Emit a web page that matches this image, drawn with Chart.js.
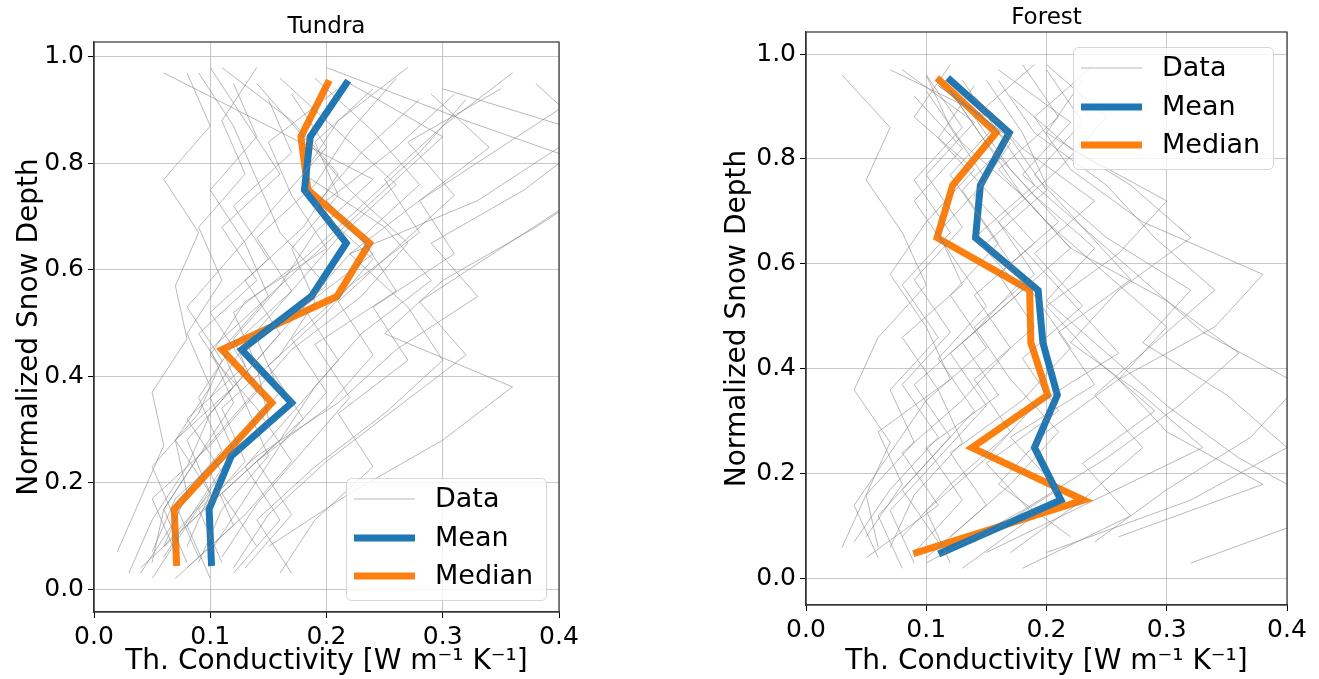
<!DOCTYPE html>
<html>
<head>
<meta charset="utf-8">
<title>Snow thermal conductivity profiles</title>
<script src="https://cdn.jsdelivr.net/npm/chart.js@4.4.1/dist/chart.umd.min.js"></script>
<style>
    body { margin: 0; background: #fff; }
    .panel { position: absolute; top: 0; }
    #tundraPanel { left: 0; }
    #forestPanel { left: 660px; }
</style>
</head>
<body>
<div class="panel" id="tundraPanel"><canvas id="tundraChart" width="660" height="679"></canvas></div>
<div class="panel" id="forestPanel"><canvas id="forestChart" width="659" height="679"></canvas></div>

<script>
// Normalized depth of each layer (bottom -> top)
const depthLevels = [0.05, 0.15, 0.25, 0.35, 0.45, 0.55, 0.65, 0.75, 0.85, 0.95];
const xTicks = [0.0, 0.1, 0.2, 0.3, 0.4];
const yTicks = [0.0, 0.2, 0.4, 0.6, 0.8, 1.0];

// Tundra
const tundraMean = [0.101, 0.099, 0.118, 0.170, 0.127, 0.187, 0.217, 0.181, 0.186, 0.217];
const tundraMedian = [0.071, 0.069, 0.111, 0.153, 0.110, 0.209, 0.237, 0.184, 0.178, 0.201];
const tundraProfiles = [
    [0.05, 0.06, 0.09, 0.12, 0.10, 0.15, 0.20, 0.25, 0.30, 0.22],
    [0.03, 0.05, 0.08, 0.10, 0.14, 0.18, 0.22, 0.28, 0.35, 0.42],
    [0.08, 0.10, 0.07, 0.12, 0.09, 0.14, 0.11, 0.16, 0.13, 0.10],
    [0.12, 0.15, 0.20, 0.26, 0.32, 0.28, 0.35, 0.42, 0.45, 0.30],
    [0.02, 0.04, 0.06, 0.05, 0.08, 0.07, 0.09, 0.06, 0.10, 0.08],
    [0.10, 0.08, 0.13, 0.18, 0.15, 0.20, 0.24, 0.19, 0.23, 0.28],
    [0.06, 0.09, 0.12, 0.10, 0.13, 0.17, 0.14, 0.19, 0.22, 0.26],
    [0.15, 0.22, 0.30, 0.36, 0.25, 0.30, 0.38, 0.45, 0.32, 0.20],
    [0.04, 0.07, 0.05, 0.09, 0.11, 0.08, 0.12, 0.16, 0.20, 0.17],
    [0.09, 0.11, 0.15, 0.13, 0.17, 0.23, 0.27, 0.22, 0.18, 0.14],
    [0.07, 0.05, 0.10, 0.14, 0.12, 0.16, 0.19, 0.24, 0.15, 0.06],
    [0.13, 0.17, 0.14, 0.20, 0.24, 0.21, 0.26, 0.31, 0.27, 0.35],
    [0.05, 0.08, 0.11, 0.08, 0.13, 0.10, 0.15, 0.12, 0.17, 0.15],
    [0.11, 0.14, 0.18, 0.22, 0.19, 0.26, 0.23, 0.28, 0.24, 0.19],
    [0.06, 0.10, 0.08, 0.12, 0.16, 0.13, 0.18, 0.21, 0.17, 0.11],
    [0.17, 0.14, 0.19, 0.25, 0.30, 0.27, 0.22, 0.33, 0.40, 0.44],
    [0.08, 0.06, 0.09, 0.13, 0.11, 0.15, 0.13, 0.10, 0.14, 0.12],
    [0.10, 0.13, 0.16, 0.20, 0.17, 0.22, 0.28, 0.25, 0.30, 0.36],
    [0.04, 0.09, 0.13, 0.11, 0.16, 0.19, 0.17, 0.21, 0.19, 0.24],
    [0.14, 0.11, 0.16, 0.19, 0.23, 0.29, 0.25, 0.18, 0.21, 0.27],
    [0.07, 0.12, 0.10, 0.15, 0.14, 0.12, 0.18, 0.23, 0.28, 0.32],
    [0.09, 0.07, 0.11, 0.09, 0.12, 0.17, 0.21, 0.26, 0.21, 0.16],
    [0.12, 0.16, 0.13, 0.17, 0.21, 0.18, 0.24, 0.20, 0.26, 0.31],
    [0.05, 0.07, 0.12, 0.16, 0.14, 0.20, 0.16, 0.14, 0.12, 0.09],
    [0.11, 0.09, 0.14, 0.21, 0.26, 0.33, 0.29, 0.37, 0.43, 0.38],
    [0.08, 0.13, 0.17, 0.14, 0.10, 0.13, 0.20, 0.17, 0.15, 0.21],
    [0.06, 0.08, 0.07, 0.10, 0.08, 0.11, 0.09, 0.13, 0.11, 0.14],
    [0.16, 0.19, 0.24, 0.21, 0.27, 0.24, 0.31, 0.28, 0.34, 0.29]
];
// small vertical offset of each measured profile's layers
const tundraShift = [0.00, -0.02, 0.03, -0.01, 0.02, -0.03, 0.01, 0.03, -0.02, 0.00,
                     0.02, -0.01, -0.03, 0.01, 0.03, -0.02, 0.00, 0.02, -0.01, 0.03,
                     -0.03, 0.01, -0.02, 0.02, 0.00, -0.01, 0.03, -0.02];

// Forest
const forestMean = [0.113, 0.212, 0.190, 0.209, 0.197, 0.193, 0.141, 0.145, 0.169, 0.120];
const forestMedian = [0.092, 0.231, 0.138, 0.201, 0.187, 0.186, 0.109, 0.122, 0.158, 0.111];
const forestProfiles = [
    [0.03, 0.05, 0.07, 0.04, 0.06, 0.10, 0.08, 0.05, 0.07, 0.03],
    [0.10, 0.18, 0.25, 0.31, 0.36, 0.30, 0.22, 0.18, 0.13, 0.10],
    [0.05, 0.08, 0.06, 0.12, 0.10, 0.07, 0.10, 0.14, 0.09, 0.12],
    [0.20, 0.32, 0.40, 0.35, 0.28, 0.32, 0.25, 0.20, 0.18, 0.15],
    [0.08, 0.06, 0.10, 0.14, 0.11, 0.15, 0.12, 0.09, 0.13, 0.09],
    [0.14, 0.21, 0.17, 0.24, 0.21, 0.27, 0.23, 0.18, 0.22, 0.16],
    [0.06, 0.04, 0.07, 0.10, 0.15, 0.12, 0.16, 0.13, 0.17, 0.11],
    [0.26, 0.38, 0.30, 0.26, 0.34, 0.38, 0.28, 0.22, 0.19, 0.24],
    [0.09, 0.13, 0.10, 0.16, 0.13, 0.18, 0.14, 0.19, 0.16, 0.13],
    [0.12, 0.10, 0.15, 0.19, 0.26, 0.22, 0.18, 0.14, 0.17, 0.12],
    [0.04, 0.07, 0.11, 0.08, 0.12, 0.09, 0.13, 0.10, 0.14, 0.08],
    [0.18, 0.27, 0.23, 0.29, 0.24, 0.20, 0.26, 0.30, 0.22, 0.17],
    [0.07, 0.09, 0.13, 0.11, 0.08, 0.13, 0.11, 0.15, 0.12, 0.10],
    [0.22, 0.16, 0.20, 0.26, 0.30, 0.25, 0.20, 0.16, 0.21, 0.18],
    [0.05, 0.11, 0.08, 0.13, 0.17, 0.14, 0.19, 0.15, 0.11, 0.14],
    [0.15, 0.24, 0.33, 0.28, 0.22, 0.26, 0.32, 0.27, 0.20, 0.23],
    [0.11, 0.08, 0.12, 0.09, 0.14, 0.18, 0.15, 0.12, 0.16, 0.07],
    [0.32, 0.44, 0.36, 0.30, 0.25, 0.20, 0.24, 0.19, 0.15, 0.12],
    [0.08, 0.12, 0.17, 0.14, 0.19, 0.16, 0.21, 0.17, 0.14, 0.19],
    [0.13, 0.19, 0.15, 0.21, 0.18, 0.23, 0.19, 0.24, 0.18, 0.14],
    [0.06, 0.05, 0.09, 0.07, 0.11, 0.08, 0.12, 0.09, 0.13, 0.10],
    [0.17, 0.23, 0.28, 0.24, 0.29, 0.34, 0.29, 0.25, 0.19, 0.16],
    [0.10, 0.15, 0.12, 0.18, 0.22, 0.19, 0.15, 0.20, 0.17, 0.11],
    [0.24, 0.30, 0.37, 0.41, 0.33, 0.28, 0.23, 0.19, 0.23, 0.20],
    [0.09, 0.07, 0.11, 0.15, 0.12, 0.17, 0.22, 0.18, 0.15, 0.12],
    [0.12, 0.17, 0.21, 0.17, 0.14, 0.19, 0.16, 0.21, 0.25, 0.20]
];
const forestShift = [0.01, -0.02, 0.03, 0.00, -0.03, 0.02, -0.01, 0.03, 0.00, -0.02,
                     0.02, -0.03, 0.01, 0.03, -0.01, 0.00, 0.02, -0.02, 0.03, -0.03,
                     0.01, 0.00, -0.01, 0.02, -0.02, 0.03];

const FONT = "'DejaVu Sans', sans-serif";
const BLUE = '#1f77b4';
const ORANGE = '#ff7f0e';
const GREY = 'rgba(128, 128, 128, 0.55)';

// Turn x-values at the depth levels into {x, y} points
function toPoints(values, shift) {
    return values.map((v, i) => ({ x: v, y: depthLevels[i] + (shift || 0) }));
}

function buildDatasets(profiles, shifts, mean, median) {
    const sets = profiles.map((p, i) => ({
        label: 'Data',
        data: toPoints(p, shifts[i]),
        borderColor: GREY,
        borderWidth: 1,
        pointRadius: 0,
        showLine: true
    }));
    sets.push({
        label: 'Mean', data: toPoints(mean), borderColor: BLUE, borderWidth: 7,
        pointRadius: 0, showLine: true, borderCapStyle: 'square', clip: false
    });
    sets.push({
        label: 'Median', data: toPoints(median), borderColor: ORANGE, borderWidth: 7,
        pointRadius: 0, showLine: true, borderCapStyle: 'square', clip: false
    });
    return sets;
}

// Axes title, top/right spines and a matplotlib-like legend inside the axes
const framePlugin = {
    id: 'frameAndLegend',
    afterDatasetsDraw(chart, args, opts) {
        const ctx = chart.ctx;
        const a = chart.chartArea;
        ctx.save();
        ctx.strokeStyle = '#333';
        ctx.lineWidth = 1.2;
        ctx.strokeRect(a.left, a.top, a.right - a.left, a.bottom - a.top);

        // panel title, centred over the axes
        ctx.fillStyle = '#000';
        ctx.font = '23px ' + FONT;
        ctx.textAlign = 'center';
        ctx.textBaseline = 'middle';
        ctx.fillText(opts.title, (a.left + a.right) / 2, opts.titleY);

        // legend box
        const w = 200, h = 122;
        const left = a.right - opts.right - w;
        const top = opts.corner === 'lower' ? a.bottom - opts.bottom - h : a.top + opts.top;
        ctx.fillStyle = 'rgba(255,255,255,0.8)';
        ctx.strokeStyle = 'rgba(204,204,204,0.8)';
        ctx.lineWidth = 1;
        ctx.beginPath();
        ctx.roundRect(left + 0.5, top + 0.5, w, h, 5);
        ctx.fill();
        ctx.stroke();

        const rows = [
            { text: 'Data', color: GREY, width: 1, dy: 21 },
            { text: 'Mean', color: BLUE, width: 7, dy: 60 },
            { text: 'Median', color: ORANGE, width: 7, dy: 98 }
        ];
        ctx.font = '27px ' + FONT;
        ctx.textAlign = 'left';
        rows.forEach(r => {
            ctx.strokeStyle = r.color;
            ctx.lineWidth = r.width;
            ctx.beginPath();
            ctx.moveTo(left + 8, top + r.dy);
            ctx.lineTo(left + 69, top + r.dy);
            ctx.stroke();
            ctx.fillStyle = '#000';
            ctx.fillText(r.text, left + 89, top + r.dy + 1);
        });
        ctx.restore();
    }
};

function makeChart(canvasId, cfg) {
    const ctx = document.getElementById(canvasId).getContext('2d');
    return new Chart(ctx, {
        type: 'scatter',
        data: { datasets: buildDatasets(cfg.profiles, cfg.shifts, cfg.mean, cfg.median) },
        plugins: [framePlugin],
        options: {
            responsive: false,
            animation: false,
            layout: { padding: { left: cfg.padLeft, right: cfg.padRight, top: cfg.padTop, bottom: 0 } },
            plugins: {
                legend: { display: false },
                tooltip: { enabled: false },
                title: { display: false },
                frameAndLegend: cfg.legend
            },
            scales: {
                x: {
                    type: 'linear',
                    min: 0,
                    max: 0.4,
                    afterBuildTicks: scale => { scale.ticks = xTicks.map(v => ({ value: v })); },
                    afterFit: scale => { scale.height = cfg.xHeight; },
                    ticks: {
                        color: '#000',
                        padding: 4,
                        maxRotation: 0,
                        font: { family: FONT, size: 25 },
                        callback: v => v.toFixed(1)
                    },
                    grid: { color: 'rgba(176,176,176,0.7)', tickColor: '#000', tickLength: 6 },
                    border: { color: '#333', width: 1.2 },
                    title: {
                        display: true,
                        text: 'Th. Conductivity [W m⁻¹ K⁻¹]',
                        color: '#000',
                        font: { family: FONT, size: 28 },
                        padding: { top: cfg.xTitlePad, bottom: 0 }
                    }
                },
                y: {
                    type: 'linear',
                    min: cfg.yMin,
                    max: cfg.yMax,
                    afterBuildTicks: scale => { scale.ticks = yTicks.map(v => ({ value: v })); },
                    afterFit: scale => { scale.width = cfg.yWidth; },
                    ticks: {
                        color: '#000',
                        padding: 4,
                        font: { family: FONT, size: 25 },
                        callback: v => v.toFixed(1)
                    },
                    grid: { color: 'rgba(176,176,176,0.7)', tickColor: '#000', tickLength: 6 },
                    border: { color: '#333', width: 1.2 },
                    title: {
                        display: true,
                        text: 'Normalized Snow Depth',
                        color: '#000',
                        font: { family: FONT, size: 28 }
                    }
                }
            }
        }
    });
}

document.addEventListener('DOMContentLoaded', function() {
    makeChart('tundraChart', {
        profiles: tundraProfiles, shifts: tundraShift, mean: tundraMean, median: tundraMedian,
        yMin: -0.043, yMax: 1.028,
        padLeft: 9, padRight: 101, padTop: 42, yWidth: 85, xHeight: 67, xTitlePad: 0,
        legend: { title: 'Tundra', titleY: 27, corner: 'lower', right: 13, bottom: 12 }
    });
    makeChart('forestChart', {
        profiles: forestProfiles, shifts: forestShift, mean: forestMean, median: forestMedian,
        yMin: -0.05, yMax: 1.042,
        padLeft: 57, padRight: 32, padTop: 32, yWidth: 89, xHeight: 74, xTitlePad: 5,
        legend: { title: 'Forest', titleY: 18, corner: 'upper', right: 14, top: 15 }
    });
});
</script>
</body>
</html>
